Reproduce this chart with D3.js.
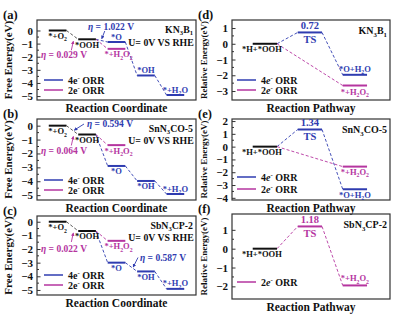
<!DOCTYPE html>
<html><head><meta charset="utf-8">
<script src="https://cdn.jsdelivr.net/npm/d3@7"></script>
<style>
body{margin:0;background:#fff}
text{font-family:"Liberation Serif","Times New Roman",serif;font-weight:bold}
</style>
</head><body><div id="chart"></div>
<script>
const BLUE = "#2f3cb0", PINK = "#b5359f", BLACK = "#111";

// ---- left panels: free energy diagrams (U = 0 V vs RHE)
const names4e = ["*+O_2", "*OOH", "*O", "*OH", "*+H_2O"];
const name2e = "*+H_2O_2";
const ticksLeft = [0, -1, -2, -3, -4, -5];
const a4e = [0, -0.671, -0.879, -3.43, -4.92];
const a2e = [0, -0.671, -1.40];
const b4e = [0, -0.636, -2.90, -3.98, -4.92];
const b2e = [0, -0.636, -1.40];
const c4e = [0, -0.678, -3.00, -3.643, -4.92];
const c2e = [0, -0.678, -1.40];
const etaLeft = [["1.022", "0.029"], ["0.594", "0.064"], ["0.587", "0.022"]];
const catNames = ["KN_3B_1", "SnN_3CO-5", "SbN_3CP-2"];

// ---- right panels: reaction pathway
const ticksD = [1, 0, -1, -2, -3];
const ticksE = [2, 1, 0, -1, -2, -3, -4];
const ticksF = [1, 0, -1, -2];
const d4e = [0, 0.72, -1.97];
const d2e = [0, -2.65];
const e4e = [0, 1.34, -3.33];
const e2e = [0, -1.56];
const f2e = [0, 1.18, -1.95];

const W = 404, H = 318;
const svg = d3.select("#chart").append("svg").attr("width", W).attr("height", H);

// rich text: _x subscript, ^x superscript, ~x italic
function rich(t, str, size) {
  let i = 0, shift = 0, buf = "";
  const flush = () => { if (buf) { t.append("tspan").attr("dy", -shift).text(buf); shift = 0; buf = ""; } };
  while (i < str.length) {
    const c = str[i];
    if ((c === "_" || c === "^") && i + 1 < str.length) {
      flush();
      const s = c === "_" ? size * 0.28 : -size * 0.35;
      t.append("tspan").attr("dy", s - shift).attr("font-size", size * 0.68).text(str[i + 1]);
      shift = s; i += 2;
    } else if (c === "~" && i + 1 < str.length) {
      flush();
      t.append("tspan").attr("dy", -shift).attr("font-style", "italic").text(str[i + 1]);
      shift = 0; i += 2;
    } else { buf += c; i++; }
  }
  flush();
  return t;
}
function label(g, x, y, str, size, color, anchor) {
  const t = g.append("text").attr("x", x).attr("y", y)
    .attr("font-size", size).attr("fill", color || BLACK)
    .attr("text-anchor", anchor || "middle");
  return rich(t, str, size);
}

const defs = svg.append("defs");
[["arB", BLUE], ["arP", PINK]].forEach(([id, col]) => {
  defs.append("marker").attr("id", id).attr("viewBox", "0 0 6 6").attr("refX", 5).attr("refY", 3)
    .attr("markerWidth", 4).attr("markerHeight", 4).attr("orient", "auto")
    .append("path").attr("d", "M0,0L6,3L0,6Z").attr("fill", col);
});

function frame(g, x0, x1, y, ticks, title, ytitle, letter, ytSize) {
  const [yb, yt] = y.range();
  const ax = g.append("g").attr("transform", `translate(${x0},0)`)
    .call(d3.axisLeft(y).tickValues(ticks).tickSize(-3.5).tickSizeOuter(0).tickPadding(4).tickFormat(d3.format("d")));
  ax.select(".domain").remove();
  ax.selectAll("text").attr("font-size", 11).attr("fill", BLACK).style("font-family", '"Liberation Serif",serif').style("font-weight", "bold");
  ax.selectAll("line").attr("stroke", "#333");
  const minor = [];
  for (let i = 0; i < ticks.length - 1; i++) minor.push((ticks[i] + ticks[i + 1]) / 2);
  g.selectAll(null).data(minor).enter().append("line")
    .attr("x1", x0).attr("x2", x0 + 2).attr("y1", d => y(d)).attr("y2", d => y(d)).attr("stroke", "#333");
  g.append("rect").attr("x", x0).attr("y", yt).attr("width", x1 - x0).attr("height", yb - yt)
    .attr("fill", "none").attr("stroke", "#333").attr("stroke-width", 1.2);
  label(g, (x0 + x1) / 2, yb + 12, title, 11.5);
  g.append("text").attr("transform", `translate(${x0 - 25},${(yb + yt) / 2}) rotate(-90)`)
    .attr("text-anchor", "middle").attr("font-size", ytSize).attr("fill", BLACK).text(ytitle);
  g.append("text").attr("x", x0 - 34).attr("y", yt - 1).attr("font-size", 12.5).attr("fill", BLACK).text(letter);
}

function level(g, x, y, i, v, hw, col) {
  g.append("line").attr("x1", x(i) - hw).attr("x2", x(i) + hw).attr("y1", y(v)).attr("y2", y(v))
    .attr("stroke", col).attr("stroke-width", 2);
}
function dash(g, x, y, i, v, j, w, hw, col) {
  g.append("line").attr("x1", x(i) + hw).attr("x2", x(j) - hw).attr("y1", y(v)).attr("y2", y(w))
    .attr("stroke", col).attr("stroke-width", 0.9).attr("stroke-dasharray", "3,2");
}
function legend(g, x, y, col, str) {
  g.append("line").attr("x1", x).attr("x2", x + 19).attr("y1", y).attr("y2", y).attr("stroke", col).attr("stroke-width", 1.5);
  label(g, x + 24, y + 3.5, str, 10, BLACK, "start");
}

// ---------- left column
const xL = d3.scaleLinear().domain([-0.7, 4.7]).range([37, 196]);
const hwL = 0.3 * (xL(1) - xL(0));
const leftSpecs = [
  { e4: a4e, e2: a2e, top: 20, bot: 100, dom: [-5.3, 0.8], letter: "(a)", pos: ["b", "b", "a", "a", "a"], etaB: 1, etaBAt: [111, 30] },
  { e4: b4e, e2: b2e, top: 119, bot: 200, dom: [-5.35, 0.48], letter: "(b)", pos: ["b", "b", "b", "b", "a"], etaB: 0, etaBAt: [110, 127] },
  { e4: c4e, e2: c2e, top: 216, bot: 295, dom: [-5.37, 0.42], letter: "(c)", pos: ["b", "b", "b", "b", "a"], etaB: 2, etaBAt: [163, 260.5] }
];
leftSpecs.forEach((s, k) => {
  const g = svg.append("g");
  const y = d3.scaleLinear().domain(s.dom).range([s.bot, s.top]);
  frame(g, 37, 196, y, ticksLeft, "Reaction Coordinate", "Free Energy(eV)", s.letter, 11);
  // connectors
  dash(g, xL, y, 0, s.e4[0], 1, s.e4[1], hwL, "#444");
  for (let i = 1; i < 4; i++) dash(g, xL, y, i, s.e4[i], i + 1, s.e4[i + 1], hwL, BLUE);
  dash(g, xL, y, 1, s.e2[1], 2, s.e2[2], hwL, PINK);
  // levels
  s.e4.forEach((v, i) => level(g, xL, y, i, v, hwL, i < 2 ? BLACK : BLUE));
  level(g, xL, y, 2, s.e2[2], hwL, PINK);
  s.e4.forEach((v, i) => {
    const below = s.pos[i] === "b";
    label(g, xL(i), y(v) + (below ? 8.5 : -2.5), names4e[i], 8.5, i < 2 ? BLACK : BLUE);
  });
  label(g, xL(2) + 2, y(s.e2[2]) + 8.5, name2e, 8.5, PINK);
  // annotations
  label(g, 193, s.top + 12.5, catNames[k], 9.8, BLACK, "end");
  label(g, 161, s.top + (k === 0 ? 26 : 25), "U= 0V VS RHE", 9.8);
  label(g, 64, y(s.e2[1]) + (k === 0 ? 19 : k === 1 ? 19 : 21), "~η = " + etaLeft[k][1] + " V", 9.5, PINK);
  label(g, s.etaBAt[0], s.etaBAt[1], "~η = " + etaLeft[k][0] + " V", 9.5, BLUE);
  // eta pointers
  const pm = [(xL(0) + hwL + xL(1) - hwL) / 2, y((s.e4[0] + s.e4[1]) / 2)];
  g.append("line").attr("x1", pm[0] - 1).attr("y1", y(s.e2[1]) + 11).attr("x2", pm[0] + 1).attr("y2", y(s.e2[1]) + 2)
    .attr("stroke", PINK).attr("stroke-width", 0.9).attr("marker-end", "url(#arP)");
  const i0 = s.etaB;
  const bm = [(xL(i0) + hwL + xL(i0 + 1) - hwL) / 2, y((s.e4[i0] + s.e4[i0 + 1]) / 2)];
  const sx = k === 2 ? s.etaBAt[0] - 25 : k === 1 ? s.etaBAt[0] - 26 : bm[0] + 3;
  const sy = k === 2 ? s.etaBAt[1] - 3 : k === 1 ? s.etaBAt[1] - 3 : s.etaBAt[1] + 1;
  g.append("line").attr("x1", sx).attr("y1", sy).attr("x2", bm[0] + (k === 0 ? 0 : 2)).attr("y2", bm[1] - (k === 0 ? 2 : 0))
    .attr("stroke", BLUE).attr("stroke-width", 0.9).attr("marker-end", "url(#arB)");
  legend(g, 44, s.bot - 20, BLUE, "4e^- ORR");
  legend(g, 44, s.bot - 10, PINK, "2e^- ORR");
});

// ---------- right column
const xR = d3.scaleLinear().domain([-0.73, 2.78]).range([232, 390]);
const hwR = 0.27 * (xR(1) - xR(0));
const rightSpecs = [
  { top: 20, bot: 100, dom: [-3.57, 1.51], ticks: ticksD, letter: "(d)" },
  { top: 119, bot: 200, dom: [-4.17, 2.16], ticks: ticksE, letter: "(e)" },
  { top: 214, bot: 299, dom: [-2.67, 1.84], ticks: ticksF, letter: "(f)" }
];
rightSpecs.forEach((s, k) => {
  const g = svg.append("g");
  const y = d3.scaleLinear().domain(s.dom).range([s.bot, s.top]);
  frame(g, 232, 390, y, s.ticks, "Reaction Pathway", "Relative Energy(eV)", s.letter, 9);
  label(g, 387, s.top + 14, catNames[k], 10, BLACK, "end");
  let ts, tsCol, fin4, fin2;
  if (k === 0) { ts = d4e[1]; tsCol = BLUE; fin4 = d4e[2]; fin2 = d2e[1]; }
  if (k === 1) { ts = e4e[1]; tsCol = BLUE; fin4 = e4e[2]; fin2 = e2e[1]; }
  if (k === 2) { ts = f2e[1]; tsCol = PINK; fin2 = f2e[2]; }
  const start = 0;
  if (k < 2) {
    dash(g, xR, y, 0, start, 1, ts, hwR, BLUE);
    dash(g, xR, y, 1, ts, 2, fin4, hwR, BLUE);
    dash(g, xR, y, 0, start, 2, fin2, hwR, PINK);
  } else {
    dash(g, xR, y, 0, start, 1, ts, hwR, PINK);
    dash(g, xR, y, 1, ts, 2, fin2, hwR, PINK);
  }
  level(g, xR, y, 0, start, hwR, BLACK);
  level(g, xR, y, 1, ts, hwR, tsCol);
  level(g, xR, y, 2, fin2, hwR, PINK);
  if (k < 2) level(g, xR, y, 2, fin4, hwR, BLUE);
  label(g, xR(0) - 3, y(start) + 8.5, "*H+*OOH", 8.5);
  label(g, xR(1), y(ts) - 3.5, d3.format(".2f")(ts), 10.5, tsCol);
  label(g, xR(1), y(ts) + 10.5, "TS", 10.5, tsCol);
  if (k === 0) {
    label(g, xR(2), y(fin4) - 3, "*O+H_2O", 8.5, BLUE);
    label(g, xR(2), y(fin2) + 9, "*+H_2O_2", 8.5, PINK);
  } else if (k === 1) {
    label(g, xR(2), y(fin2) + 8.5, "*+H_2O_2", 8.5, PINK);
    label(g, xR(2), y(fin4) + 8.5, "*O+H_2O", 8.5, BLUE);
  } else {
    label(g, xR(2), y(fin2) - 4, "*+H_2O_2", 8.5, PINK);
  }
  if (k < 2) {
    legend(g, 237, s.bot - (k === 0 ? 20 : 23), BLUE, "4~e^- ORR");
    legend(g, 237, s.bot - (k === 0 ? 10 : 11), PINK, "2~e^- ORR");
  } else {
    legend(g, 237, s.bot - 17, PINK, "2~e^- ORR");
  }
});
</script>
</body></html>
